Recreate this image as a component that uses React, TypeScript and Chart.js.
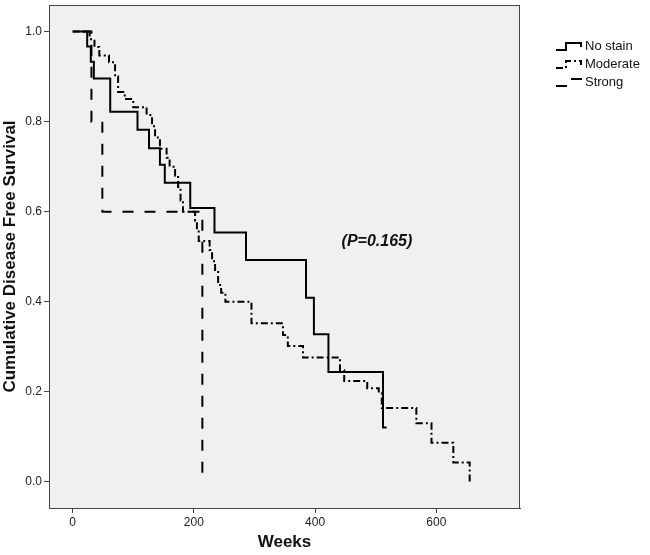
import { Chart, registerables, type Plugin } from "chart.js";
import { useEffect, useRef } from "react";

Chart.register(...registerables);

// Kaplan-Meier steps: week of each drop and survival after it
const noStainWeeks = [0, 24, 30, 35, 62, 107, 126, 144, 152, 194, 234, 286, 385, 398, 422, 512, 518];
const noStainSurv = [1, 0.967, 0.933, 0.896, 0.822, 0.782, 0.741, 0.704, 0.664, 0.608, 0.554, 0.493, 0.409, 0.328, 0.244, 0.121, 0.121];

const moderateWeeks = [
  0, 28, 36, 44, 60, 70, 75, 86, 100, 122, 131, 136, 144, 155, 160, 169, 174, 178, 182, 202, 205, 208,
  226, 230, 235, 240, 245, 252, 295, 347, 355, 380, 441, 448, 486, 505, 510, 567, 592, 628, 655,
];
const moderateSurv = [
  1, 0.983, 0.966, 0.947, 0.932, 0.9, 0.866, 0.85, 0.832, 0.815, 0.79, 0.765, 0.74, 0.72, 0.7, 0.68, 0.655,
  0.625, 0.6, 0.58, 0.56, 0.535, 0.515, 0.49, 0.466, 0.437, 0.42, 0.4, 0.352, 0.326, 0.302, 0.276, 0.248,
  0.224, 0.208, 0.197, 0.164, 0.13, 0.087, 0.043, 0,
];

const strongWeeks = [0, 31, 49, 214];
const strongSurv = [1, 0.8, 0.6, 0];

const groupNames = ["No stain", "Moderate", "Strong"];
const xTicks = [0, 200, 400, 600];
const yTicks = [0, 0.2, 0.4, 0.6, 0.8, 1.0];
const pValueText = "(P=0.165)";

const FONT = "'Liberation Sans', Arial, sans-serif";
const dashes = [[], [7, 3, 2, 3], [11, 11]];
const dashOffsets = [0, 0, 12];

const toPoints = (w: number[], s: number[]) => w.map((x, i) => ({ x, y: s[i] }));

const framePlugin: Plugin = {
  id: "frame",
  beforeDraw(chart) {
    const { ctx, chartArea: a } = chart;
    ctx.save();
    ctx.fillStyle = "#ffffff";
    ctx.fillRect(0, 0, chart.width, chart.height);
    ctx.fillStyle = "#f0f0f0";
    ctx.fillRect(a.left, a.top, a.right - a.left, a.bottom - a.top);
    ctx.restore();
  },
  afterDraw(chart) {
    const { ctx, chartArea: a, scales } = chart;
    ctx.save();
    ctx.strokeStyle = "#444";
    ctx.lineWidth = 1;
    ctx.strokeRect(a.left + 0.5, a.top + 0.5, a.right - a.left - 1, a.bottom - a.top);

    // p-value annotation
    ctx.fillStyle = "#111";
    ctx.font = `italic bold 16px ${FONT}`;
    ctx.textAlign = "center";
    ctx.textBaseline = "middle";
    ctx.fillText(pValueText, scales.x.getPixelForValue(502), scales.y.getPixelForValue(0.534));

    // legend to the right of the plot
    ctx.textAlign = "left";
    ctx.font = `13px ${FONT}`;
    groupNames.forEach((name, i) => {
      const c = 46 + i * 18;
      const x0 = a.right + 36;
      ctx.strokeStyle = "#000";
      ctx.lineWidth = 2;
      ctx.setLineDash(dashes[i]);
      ctx.beginPath();
      ctx.moveTo(x0, c + 4);
      ctx.lineTo(x0 + 10, c + 4);
      ctx.lineTo(x0 + 10, c - 3);
      ctx.lineTo(x0 + 25, c - 3);
      ctx.lineTo(x0 + 25, c + 1);
      ctx.stroke();
      ctx.setLineDash([]);
      ctx.fillText(name, x0 + 29, c);
    });
    ctx.restore();
  },
};

export default function App() {
  const canvasRef = useRef<HTMLCanvasElement>(null);

  useEffect(() => {
    document.body.style.margin = "0";
    const canvas = canvasRef.current;
    if (!canvas) return;
    const series = [
      toPoints(noStainWeeks, noStainSurv),
      toPoints(moderateWeeks, moderateSurv),
      toPoints(strongWeeks, strongSurv),
    ];
    const chart = new Chart(canvas, {
      type: "line",
      data: {
        datasets: series.map((data, i) => ({
          label: groupNames[i],
          data,
          stepped: "before" as const,
          borderColor: "#000",
          borderWidth: 2,
          borderDash: dashes[i],
          borderDashOffset: dashOffsets[i],
          pointRadius: 0,
          fill: false,
        })),
      },
      options: {
        responsive: false,
        animation: false,
        layout: { padding: { top: 5, right: 130, left: 0, bottom: 0 } },
        plugins: { legend: { display: false }, tooltip: { enabled: false } },
        scales: {
          x: {
            type: "linear",
            min: -39,
            max: 738,
            afterBuildTicks: (s) => {
              s.ticks = xTicks.map((value) => ({ value }));
            },
            afterFit: (s) => {
              s.height = 47;
              s.paddingLeft = 0;
              s.paddingRight = 0;
            },
            grid: { drawOnChartArea: false, tickLength: 5, color: "#444" },
            border: { color: "#444" },
            ticks: { color: "#222", font: { family: FONT, size: 12 }, padding: 2, maxRotation: 0 },
            title: {
              display: true,
              text: "Weeks",
              color: "#111",
              font: { family: FONT, size: 17, weight: "bold" },
              padding: { top: 0, bottom: 2 },
            },
          },
          y: {
            type: "linear",
            min: -0.058,
            max: 1.059,
            afterBuildTicks: (s) => {
              s.ticks = yTicks.map((value) => ({ value }));
            },
            afterFit: (s) => {
              s.width = 49;
              s.paddingTop = 0;
              s.paddingBottom = 0;
            },
            grid: { drawOnChartArea: false, tickLength: 5, color: "#444" },
            border: { color: "#444" },
            ticks: {
              color: "#222",
              font: { family: FONT, size: 12 },
              padding: 2,
              callback: (v) => Number(v).toFixed(1),
            },
            title: {
              display: true,
              text: "Cumulative Disease Free Survival",
              color: "#111",
              font: { family: FONT, size: 17, weight: "bold" },
              padding: { top: 0, bottom: 0 },
            },
          },
        },
      },
      plugins: [framePlugin],
    });
    return () => chart.destroy();
  }, []);

  return <canvas ref={canvasRef} width={650} height={555} style={{ display: "block" }} />;
}
